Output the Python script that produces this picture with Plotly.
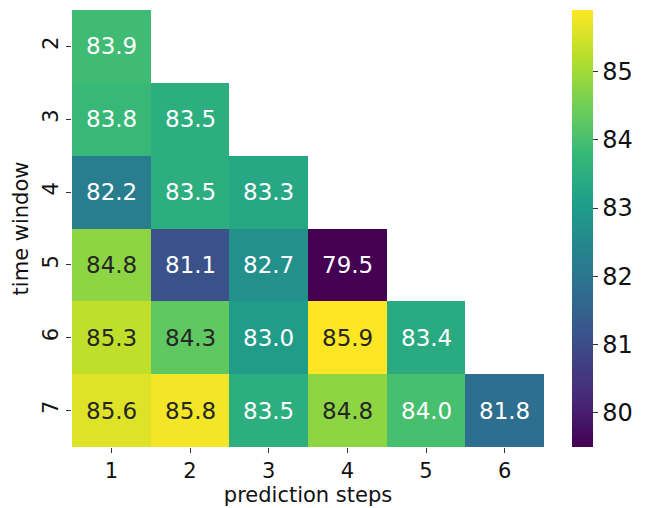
import plotly.graph_objects as go

steps = [1, 2, 3, 4, 5, 6]
windows = [2, 3, 4, 5, 6, 7]
row_w2 = [83.9, None, None, None, None, None]
row_w3 = [83.8, 83.5, None, None, None, None]
row_w4 = [82.2, 83.5, 83.3, None, None, None]
row_w5 = [84.8, 81.1, 82.7, 79.5, None, None]
row_w6 = [85.3, 84.3, 83.0, 85.9, 83.4, None]
row_w7 = [85.6, 85.8, 83.5, 84.8, 84.0, 81.8]
colorbar_ticks = [80, 81, 82, 83, 84, 85]

z = [row_w2, row_w3, row_w4, row_w5, row_w6, row_w7]
FONT = "DejaVu Sans"

fig = go.Figure()
fig.add_trace(go.Heatmap(
    x=steps, y=windows, z=z,
    colorscale="Viridis", zmin=79.5, zmax=85.9,
    hoverongaps=False,
    colorbar=dict(
        thickness=21, len=1, lenmode="fraction", y=0.5, yanchor="middle",
        x=1.0593, xanchor="left", xpad=0, ypad=0, outlinewidth=0,
        tickvals=colorbar_ticks, ticks="outside", ticklen=5, tickcolor="#333",
        tickfont=dict(family=FONT, size=24, color="#111"),
    ),
))

annotations = []
for yi, row in zip(windows, z):
    for xi, v in zip(steps, row):
        if v is None:
            continue
        color = "#262626" if v >= 84.2 else "white"
        annotations.append(dict(
            x=xi, y=yi, text=f"{v:.1f}", showarrow=False,
            font=dict(family=FONT, size=23, color=color),
        ))

fig.update_layout(
    width=642, height=500,
    margin=dict(l=64, r=106, t=2, b=61),
    paper_bgcolor="white", plot_bgcolor="white",
    annotations=annotations,
    font=dict(family=FONT, color="#111"),
    xaxis=dict(
        tickvals=steps, ticks="outside", ticklen=5, tickcolor="#333",
        showgrid=False, zeroline=False, showline=False,
        tickfont=dict(size=21), range=[0.5, 6.5],
        title=dict(text="prediction steps", font=dict(size=21), standoff=2),
    ),
    yaxis=dict(
        tickvals=windows, ticks="outside", ticklen=5, tickcolor="#333",
        showgrid=False, zeroline=False, showline=False,
        tickfont=dict(size=21), tickangle=-90, range=[7.5, 1.5],
        title=dict(text="time window", font=dict(size=21), standoff=4),
    ),
)

fig.write_html("out.html")
